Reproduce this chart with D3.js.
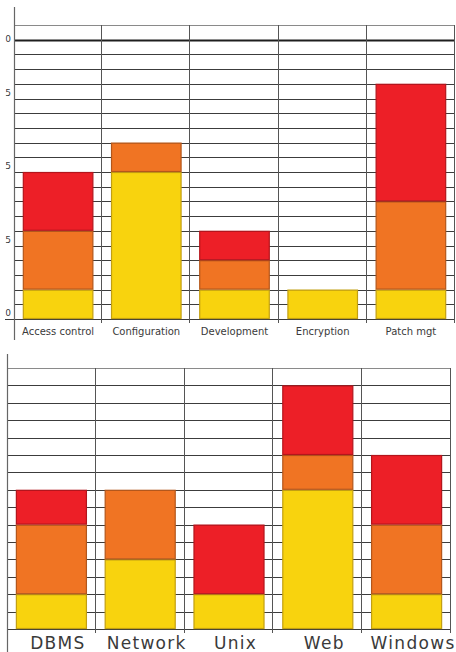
<!DOCTYPE html>
<html>
<head>
<meta charset="utf-8">
<script src="https://cdn.jsdelivr.net/npm/d3@7"></script>
<style>
  body { margin: 0; background: #fff; }
  svg { display: block; }
  text { font-family: "DejaVu Sans", Verdana, sans-serif; fill: #3a3a3a; }
</style>
</head>
<body>
<div id="chart"></div>
<script>
var width = 456;
var height = 652;

// top panel
var topCategories = ["Access control", "Configuration", "Development", "Encryption", "Patch mgt"];
var topLow = [1, 5, 1, 1, 1];
var topMedium = [2, 1, 1, 0, 3];
var topHigh = [2, 0, 1, 0, 4];
var topTicks = [0, 2.5, 5, 7.5, 10];

// bottom panel
var bottomCategories = ["DBMS", "Network", "Unix", "Web", "Windows"];
var bottomLow = [1, 2, 1, 4, 1];
var bottomMedium = [2, 2, 0, 1, 2];
var bottomHigh = [1, 0, 2, 2, 2];

var keys = ["low", "medium", "high"];
var fills = { low: "#f8d30e", medium: "#f07423", high: "#ed1f27" };
var strokes = { low: "#c29f12", medium: "#b3561b", high: "#b3151c" };

var svg = d3.select("#chart")
    .append("svg")
    .attr("width", width)
    .attr("height", height);

svg.append("clipPath").attr("id", "labelclip")
    .append("rect").attr("x", 5.5).attr("y", 0).attr("width", 20).attr("height", 340);

function drawPanel(opts) {
    var rows = opts.categories.map(function(c, i) {
        return { cat: c, low: opts.low[i], medium: opts.medium[i], high: opts.high[i] };
    });
    var series = d3.stack().keys(keys)(rows);

    var x = d3.scaleBand()
        .domain(opts.categories)
        .range([opts.left, opts.right])
        .paddingInner(0.2)
        .paddingOuter(0.1);

    var y = d3.scaleLinear()
        .domain([0, opts.max])
        .range([opts.bottom, opts.top]);

    var g = svg.append("g");

    // horizontal grid every half unit
    var gridVals = d3.range(0, opts.max + 0.001, 0.5);
    g.selectAll(".grid")
        .data(gridVals)
        .enter()
        .append("line")
        .attr("x1", function(d) { return d === 0 ? opts.left - opts.tickOut : opts.left; })
        .attr("x2", opts.right)
        .attr("y1", function(d) { return Math.round(y(d)) + 0.5; })
        .attr("y2", function(d) { return Math.round(y(d)) + 0.5; })
        .attr("stroke", function(d) {
            if (d === opts.max) return "#8a8a8a";
            if (d === opts.thick) return "#1e1e1e";
            return "#3c3c3c";
        })
        .attr("stroke-width", function(d) { return d === opts.thick ? 2 : 1; });

    // category separators
    var step = x.step();
    var seps = d3.range(1, opts.categories.length + 1).map(function(i) { return opts.left + i * step; });
    g.selectAll(".sep")
        .data(seps)
        .enter()
        .append("line")
        .attr("x1", function(d) { return Math.round(d) - 0.5; })
        .attr("x2", function(d) { return Math.round(d) - 0.5; })
        .attr("y1", y(opts.max))
        .attr("y2", opts.bottom + 4)
        .attr("stroke", "#555")
        .attr("stroke-width", 1);

    // left axis line
    g.append("line")
        .attr("x1", opts.left + 0.5).attr("x2", opts.left + 0.5)
        .attr("y1", opts.axisTop).attr("y2", opts.axisBottom)
        .attr("stroke", "#666")
        .attr("stroke-width", 1.2);

    // stacked bars
    g.selectAll(".layer")
        .data(series)
        .enter()
        .append("g")
        .attr("fill", function(s) { return fills[s.key]; })
        .attr("stroke", function(s) { return strokes[s.key]; })
        .selectAll("rect")
        .data(function(s) { return s.filter(function(d) { return d[1] > d[0]; }); })
        .enter()
        .append("rect")
        .attr("x", function(d) { return x(d.data.cat) + 0.5; })
        .attr("y", function(d) { return y(d[1]) + 0.5; })
        .attr("width", x.bandwidth() - 1)
        .attr("height", function(d) { return y(d[0]) - y(d[1]) - 1; })
        .attr("stroke-width", 1.2);

    // category labels
    g.selectAll(".cat")
        .data(opts.categories)
        .enter()
        .append("text")
        .attr("x", function(d) { return x(d) + x.bandwidth() / 2 + opts.labelShift; })
        .attr("y", opts.labelY)
        .attr("text-anchor", "middle")
        .attr("font-size", opts.labelSize)
        .attr("letter-spacing", opts.letterSpacing)
        .text(function(d) { return d; });

    // y tick labels (cut off at the left edge, as in the source)
    if (opts.ticks) {
        g.append("g")
            .attr("clip-path", "url(#labelclip)")
            .selectAll("text")
            .data(opts.ticks)
            .enter()
            .append("text")
            .attr("x", 11)
            .attr("y", function(d) { return Math.max(y(d) - 3, 42); })
            .attr("text-anchor", "end")
            .attr("font-size", 9)
            .text(function(d) { return d3.format("")(d); });
    }
}

drawPanel({
    categories: topCategories, low: topLow, medium: topMedium, high: topHigh,
    left: 14, right: 455, top: 25, bottom: 319, max: 10, thick: 9.5,
    axisTop: 7, axisBottom: 340, tickOut: 9,
    labelY: 335, labelSize: 10, letterSpacing: 0, labelShift: 0,
    ticks: topTicks
});

drawPanel({
    categories: bottomCategories, low: bottomLow, medium: bottomMedium, high: bottomHigh,
    left: 7, right: 451, top: 368, bottom: 629, max: 7.5, thick: -1,
    axisTop: 354, axisBottom: 652, tickOut: 0,
    labelY: 649, labelSize: 17, letterSpacing: 1.3, labelShift: 6.5,
    ticks: null
});
</script>
</body>
</html>
